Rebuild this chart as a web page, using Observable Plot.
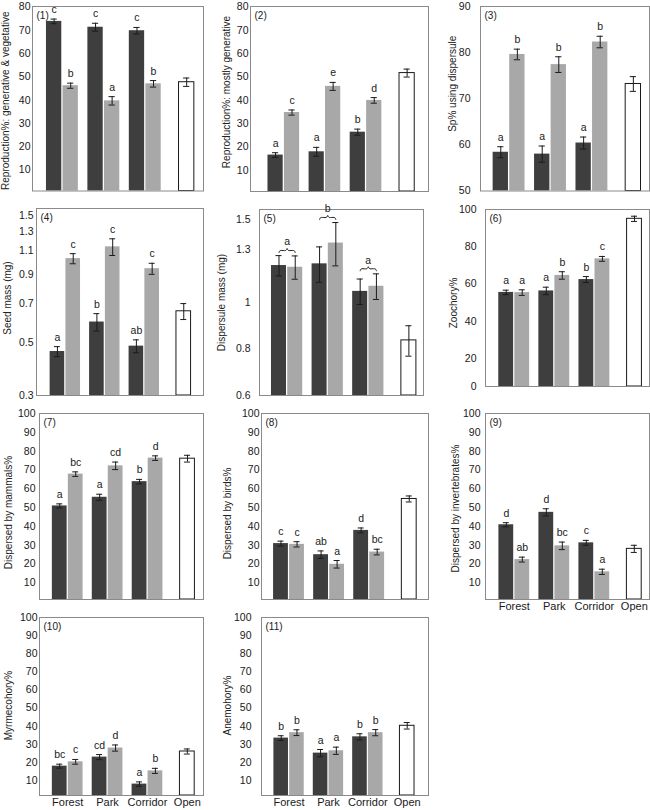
<!DOCTYPE html>
<html><head><meta charset="utf-8">
<script src="https://cdn.jsdelivr.net/npm/d3@7"></script>
<script src="https://cdn.jsdelivr.net/npm/@observablehq/plot@0.6"></script>
<style>
body{margin:0;background:#fff;}
#fig{position:relative;width:650px;height:810px;overflow:hidden;background:#fff;font-family:"Liberation Sans",Arial,sans-serif;}
</style></head><body><div id="fig"></div>
<script>
// ---------- data ----------
const groups = ["Forest", "Park", "Corridor", "Open"];
const barGroup = ["Forest", "Forest", "Park", "Park", "Corridor", "Corridor", "Open"];
const barSeries = ["dark", "light", "dark", "light", "dark", "light", "open"];

const yTitles = [
  "Reproduction%: generative & vegetative",
  "Reproduction%: mostly generative",
  "Sp% using dispersule",
  "Seed mass (mg)",
  "Dispersule mass (mg)",
  "Zoochory%",
  "Dispersed by mammals%",
  "Dispersed by birds%",
  "Dispersed by invertebrates%",
  "Myrmecohory%",
  "Anemohory%"
];

const p1Mean = [73.8, 46.2, 71.3, 39.7, 69.8, 47.0, 47.7];
const p1Se = [1.0, 1.1, 1.7, 1.8, 1.4, 1.4, 1.8];
const p1Letters = ["c", "b", "c", "a", "c", "b", ""];

const p2Mean = [16.6, 34.8, 18.0, 46.0, 26.4, 40.0, 51.7];
const p2Se = [1.0, 1.1, 1.9, 1.7, 1.3, 1.2, 1.7];
const p2Letters = ["a", "c", "a", "e", "b", "d", ""];

const p3Mean = [58.4, 79.6, 58.0, 77.4, 60.4, 82.3, 73.2];
const p3Se = [1.2, 1.15, 1.75, 1.7, 1.3, 1.25, 1.6];
const p3Letters = ["a", "b", "a", "b", "a", "b", ""];

const p4Mean = [0.462, 1.031, 0.596, 1.141, 0.484, 0.945, 0.654];
const p4Se = [0.02, 0.045, 0.045, 0.082, 0.027, 0.045, 0.045];
const p4Letters = ["a", "c", "b", "c", "ab", "c", ""];

const p5Mean = [1.20, 1.19, 1.21, 1.34, 1.057, 1.084, 0.831];
const p5Se = [0.06, 0.068, 0.105, 0.142, 0.066, 0.068, 0.062];
const p5PairLetters = ["a", "b", "a"];

const p6Mean = [55.5, 55.4, 56.3, 64.6, 62.4, 73.5, 95.0];
const p6Se = [1.2, 1.5, 2.0, 2.0, 1.6, 1.3, 1.4];
const p6Letters = ["a", "a", "a", "b", "b", "c", ""];

const p7Mean = [50.9, 67.8, 55.5, 72.2, 63.8, 76.3, 76.0];
const p7Se = [1.1, 1.2, 1.6, 2.0, 1.2, 1.2, 1.8];
const p7Letters = ["a", "bc", "a", "cd", "b", "d", ""];

const p8Mean = [30.9, 30.5, 25.0, 19.9, 37.9, 26.4, 54.6];
const p8Se = [1.3, 1.4, 2.0, 2.0, 1.3, 1.5, 1.6];
const p8Letters = ["c", "c", "ab", "a", "d", "bc", ""];

const p9Mean = [40.9, 22.4, 47.5, 29.7, 31.3, 15.9, 28.1];
const p9Se = [1.1, 1.3, 1.9, 2.0, 1.3, 1.4, 1.9];
const p9Letters = ["d", "ab", "d", "bc", "c", "a", ""];

const p10Mean = [17.9, 20.3, 22.9, 27.9, 8.0, 15.3, 26.0];
const p10Se = [1.1, 1.3, 1.4, 1.7, 1.2, 1.4, 1.4];
const p10Letters = ["bc", "c", "cd", "d", "a", "b", ""];

const p11Mean = [33.4, 36.4, 25.1, 26.4, 34.1, 36.4, 40.2];
const p11Se = [1.3, 1.6, 2.0, 2.0, 1.7, 1.7, 1.8];
const p11Letters = ["b", "b", "a", "a", "b", "b", ""];

const ticks80 = [10, 20, 30, 40, 50, 60, 70, 80];
const ticks90 = [50, 60, 70, 80, 90];
const ticksSeed = [0.3, 0.5, 0.7, 0.9, 1.1, 1.3, 1.5];
const ticksDisp = [0.6, 0.8, 1, 1.3, 1.5];
const ticksZoo = [0, 20, 40, 60, 80, 100];
const ticks100 = [10, 20, 30, 40, 50, 60, 70, 80, 90, 100];

// ---------- layout & style ----------
const FILL = {dark: "#3e3e3e", light: "#a8a8a8", open: "#ffffff"};
const OFF = {dark: -0.2, light: 0.2, open: 0};
const HALF = 0.185, CAP = 0.075;
const INK = "#1a1a1a";
const FONT = "'Liberation Sans', Arial, sans-serif";

const panels = [
  {mean: p1Mean, se: p1Se, letters: p1Letters, ticks: ticks80, frame: [32, 5.5, 203, 190], xDom: [-0.722, 3.406], yDom: [1, 80.2], pad: 2, tOff: 27, tDy: 2},
  {mean: p2Mean, se: p2Se, letters: p2Letters, ticks: ticks80, frame: [250, 5.5, 428, 190.5], xDom: [-0.81, 3.52], yDom: [1, 80.2], pad: 2, tOff: 24, tDy: -7},
  {mean: p3Mean, se: p3Se, letters: p3Letters, ticks: ticks90, frame: [480, 5.5, 649, 190], xDom: [-0.69, 3.39], yDom: [50, 90], pad: 10, tOff: 27.5, tDy: -15},
  {mean: p4Mean, se: p4Se, letters: p4Letters, ticks: ticksSeed, frame: [36, 208, 203, 395], xDom: [-0.73, 3.5], yDom: [0.316, 1.589], log: true, clamp: true, pad: 3, tOff: 29, tDy: -4},
  {mean: p5Mean, se: p5Se, letters: null, ticks: ticksDisp, frame: [259, 209, 423, 395], xDom: [-0.68, 3.36], yDom: [0.634, 1.58], log: true, clamp: true, pad: 9, tOff: 38, tDy: 0, braces: p5PairLetters},
  {mean: p6Mean, se: p6Se, letters: p6Letters, ticks: ticksZoo, frame: [485, 209, 649, 386], xDom: [-0.716, 3.374], yDom: [5, 100], clamp: true, pad: 9, tOff: 31.5, tDy: 5},
  {mean: p7Mean, se: p7Se, letters: p7Letters, ticks: ticks100, frame: [39, 413, 203, 599], xDom: [-0.707, 3.4], yDom: [1.2, 100], pad: 4, tOff: 31, tDy: 6},
  {mean: p8Mean, se: p8Se, letters: p8Letters, ticks: ticks100, frame: [261, 413, 428, 599], xDom: [-0.686, 3.48], yDom: [1.2, 100], pad: 2, tOff: 34, tDy: 7},
  {mean: p9Mean, se: p9Se, letters: p9Letters, ticks: ticks100, frame: [485, 413, 649, 599], xDom: [-0.72, 3.38], yDom: [1.2, 100], pad: 5, tOff: 30, tDy: 2, xAxis: true},
  {mean: p10Mean, se: p10Se, letters: p10Letters, ticks: ticks100, frame: [39, 617, 203, 795], xDom: [-0.707, 3.406], yDom: [1.7, 100], pad: 2, tOff: 31, tDy: -1, xAxis: true},
  {mean: p11Mean, se: p11Se, letters: p11Letters, ticks: ticks100, frame: [261, 617, 428, 795], xDom: [-0.70, 3.54], yDom: [1.7, 100], pad: 10, tOff: 34, tDy: -1, xAxis: true}
];

const BRACE_X = [-0.2, -0.19, -0.155, -0.04, -0.012, 0, 0.012, 0.04, 0.155, 0.19, 0.2];
const BRACE_L = [0, 0.6, 1, 1, 1.5, 2, 1.5, 1, 1, 0.6, 0];

const fig = document.getElementById("fig");

panels.forEach((p, i) => {
  const rows = barGroup.map((g, k) => ({g, s: barSeries[k], m: p.mean[k], se: p.se[k], letter: p.letters ? p.letters[k] : ""}));
  const xc = d => groups.indexOf(d.g) + OFF[d.s];
  const y0 = p.yDom[0];
  const [fx0, fy0, fx1, fy1] = p.frame;
  const mL = 46, mR = 3, mT = 6, mB = 22;

  const bar = (s, extra) => Plot.rectY(rows.filter(d => d.s === s), {
    x1: d => xc(d) - HALF, x2: d => xc(d) + HALF, y1: () => y0, y2: "m", fill: FILL[s], ...extra
  });

  const marks = [
    bar("dark", {}),
    bar("light", {}),
    bar("open", {stroke: INK, strokeWidth: 1}),
    Plot.ruleX(rows, {x: xc, y1: d => d.m - d.se, y2: d => d.m + d.se, stroke: INK, strokeWidth: 1}),
    Plot.ruleY(rows, {y: d => d.m + d.se, x1: d => xc(d) - CAP, x2: d => xc(d) + CAP, stroke: INK, strokeWidth: 1}),
    Plot.ruleY(rows, {y: d => d.m - d.se, x1: d => xc(d) - CAP, x2: d => xc(d) + CAP, stroke: INK, strokeWidth: 1}),
    Plot.text(rows.filter(d => d.letter), {x: xc, y: d => d.m + d.se, text: "letter", lineAnchor: "bottom", dy: -6, fontSize: 10.5, fill: INK}),
    Plot.frame({stroke: "#8a8a8a"}),
    Plot.axisY({ticks: p.ticks, tickSize: 0, tickPadding: p.pad, tickFormat: d => String(d), fontSize: 10.5, label: null, color: INK}),
    Plot.text([yTitles[i]], {text: d => d, frameAnchor: "left", dx: -p.tOff, dy: p.tDy, rotate: -90, textAnchor: "middle", lineAnchor: "middle", fontSize: 10, fill: "#222"}),
    Plot.text([`(${i + 1})`], {text: d => d, frameAnchor: "top-left", dx: 4, dy: 5, fontSize: 10, fill: INK})
  ];

  if (p.braces) {
    const tops = p.braces.map((_, k) => Math.max(rows[2 * k].m + rows[2 * k].se, rows[2 * k + 1].m + rows[2 * k + 1].se));
    const braceRows = tops.flatMap((t, k) => BRACE_X.map((bx, j) => ({k, x: k + bx, y: t * Math.exp(0.015 + 0.01 * BRACE_L[j])})));
    marks.push(Plot.line(braceRows, {x: "x", y: "y", z: "k", stroke: INK, strokeWidth: 1, curve: "catmull-rom"}));
    marks.push(Plot.text(p.braces, {x: (d, k) => k, y: (d, k) => tops[k] * Math.exp(0.035), text: d => d, lineAnchor: "bottom", dy: -3, fontSize: 10.5, fill: INK}));
  }
  if (p.xAxis) {
    marks.push(Plot.axisX({ticks: [0, 1, 2, 3], tickFormat: k => groups[k], tickSize: 0, tickPadding: 3, fontSize: 11, label: null, color: INK}));
  }

  const svg = Plot.plot({
    width: fx1 - fx0 + mL + mR,
    height: fy1 - fy0 + mT + mB,
    marginLeft: mL, marginRight: mR, marginTop: mT, marginBottom: mB,
    x: {domain: p.xDom, axis: p.xAxis ? undefined : null},
    y: {type: p.log ? "log" : "linear", domain: p.yDom, clamp: !!p.clamp},
    style: {fontFamily: FONT, fontSize: "10.5px", background: "transparent", overflow: "visible", position: "absolute", left: (fx0 - mL) + "px", top: (fy0 - mT) + "px", maxWidth: "none"},
    marks
  });
  fig.appendChild(svg);
});
</script></body></html>
